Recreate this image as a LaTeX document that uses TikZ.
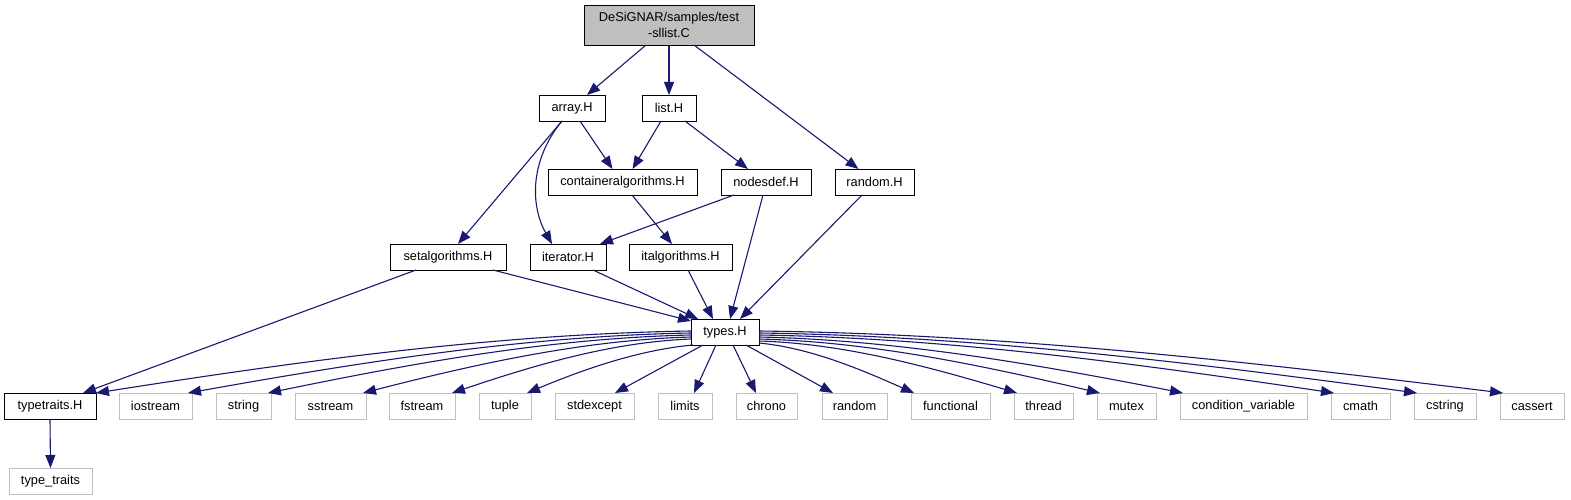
\documentclass[tikz,border=0pt]{standalone}
\usepackage{fontspec}
\setmainfont{Liberation Sans}
\usetikzlibrary{arrows.meta}
\definecolor{edgeblue}{HTML}{191970}
\definecolor{greyBF}{HTML}{BFBFBF}
\begin{document}
\begin{tikzpicture}[x=1pt,y=-1pt,
  nd/.style={draw=black, line width=0.9pt, inner sep=0pt, outer sep=0pt,
    font=\fontsize{12.8}{16}\selectfont, minimum height=26pt, text=black},
  ext/.style={nd, draw=greyBF},
  edge/.style={draw=edgeblue, line width=1.1pt, -{Triangle[length=13pt,width=10pt]}}]
\useasboundingbox (0,0) rectangle (1571,500);
% nodes
\node[nd, fill=greyBF, minimum width=170pt, minimum height=40pt, align=center] (root) at (669,25) {DeSiGNAR/samples/test\\-sllist.C};
\node[nd, minimum width=66pt] (array) at (572,108) {array.H};
\node[nd, minimum width=54pt] (list) at (669,108) {list.H};
\node[nd, minimum width=149pt] (contalg) at (622.5,182) {containeralgorithms.H};
\node[nd, minimum width=90pt] (nodesdef) at (766,182) {nodesdef.H};
\node[nd, minimum width=79pt] (randomH) at (874.5,182) {random.H};
\node[nd, minimum width=116pt] (setalg) at (448,257) {setalgorithms.H};
\node[nd, minimum width=76pt] (iterator) at (568,257) {iterator.H};
\node[nd, minimum width=103pt] (italg) at (680.5,257) {italgorithms.H};
\node[nd, minimum width=68pt] (types) at (725,332) {types.H};
\node[nd, minimum width=92pt] (typetraits) at (50,406) {typetraits.H};
\node[ext, minimum width=73pt] (iostream) at (155.5,406) {iostream};
\node[ext, minimum width=55pt] (string) at (243.5,406) {string};
\node[ext, minimum width=71pt] (sstream) at (330.5,406) {sstream};
\node[ext, minimum width=66pt] (fstream) at (422,406) {fstream};
\node[ext, minimum width=52pt] (tuple) at (505,406) {tuple};
\node[ext, minimum width=79pt] (stdexcept) at (594.5,406) {stdexcept};
\node[ext, minimum width=54pt] (limits) at (685,406) {limits};
\node[ext, minimum width=61pt] (chrono) at (766.5,406) {chrono};
\node[ext, minimum width=65pt] (random) at (854.5,406) {random};
\node[ext, minimum width=79pt] (functional) at (950.5,406) {functional};
\node[ext, minimum width=59pt] (thread) at (1043.5,406) {thread};
\node[ext, minimum width=59pt] (mutex) at (1126.5,406) {mutex};
\node[ext, minimum width=127pt] (condvar) at (1243.5,406) {condition\_variable};
\node[ext, minimum width=59pt] (cmath) at (1360.5,406) {cmath};
\node[ext, minimum width=62pt] (cstring) at (1445,406) {cstring};
\node[ext, minimum width=64pt] (cassert) at (1532,406) {cassert};
\node[ext, minimum width=83pt] (type_traits) at (50.5,481) {type\_traits};
% edges
\draw[edge] ([xshift=-23pt]root.south) -- ([xshift=15pt]array.north);
\draw[edge] (root.south) -- (list.north);
\draw[edge] ([xshift=25pt]root.south) -- ([xshift=-16pt]randomH.north);
\draw[edge] ([xshift=8pt]array.south) -- ([xshift=-10pt]contalg.north);
\draw[edge] ([xshift=-8pt]list.south) -- ([xshift=10pt]contalg.north);
\draw[edge] ([xshift=16pt]list.south) -- ([xshift=-18pt]nodesdef.north);
\draw[edge] ([xshift=-10pt]array.south) -- ([xshift=10pt]setalg.north);
\draw[edge] ([xshift=-10pt]array.south) .. controls (530,160) and (530,205) .. ([xshift=-16pt]iterator.north);
\draw[edge] ([xshift=-32pt]nodesdef.south) -- ([xshift=32pt]iterator.north);
\draw[edge] ([xshift=9.5pt]contalg.south) -- ([xshift=-8.5pt]italg.north);
\draw[edge] ([xshift=-3pt]nodesdef.south) -- ([xshift=5pt]types.north);
\draw[edge] ([xshift=-12.5pt]randomH.south) -- ([xshift=15pt]types.north);
\draw[edge] ([xshift=7.5pt]italg.south) -- ([xshift=-12pt]types.north);
\draw[edge] ([xshift=25pt]iterator.south) -- ([xshift=-27pt]types.north);
\draw[edge] ([xshift=45pt]setalg.south) -- ([yshift=-2pt]types.north west);
\draw[edge] ([xshift=-32pt]setalg.south) -- ([xshift=33pt]typetraits.north);
\draw[edge] (typetraits.south) -- (type_traits.north);
% types to bottom row
\draw[edge] ([yshift=1pt]types.west) .. controls (493,334) and (294,362) .. (typetraits.north east);
\draw[edge] ([yshift=-1pt]types.west) .. controls (523,336) and (356,363) .. ([xshift=-4pt]iostream.north east);
\draw[edge] ([yshift=-3pt]types.west) .. controls (550,338) and (409,364) .. ([xshift=-3pt]string.north east);
\draw[edge] ([yshift=-5pt]types.west) .. controls (582,340) and (472,365) .. ([xshift=-3pt]sstream.north east);
\draw[edge] ([yshift=-7pt]types.west) .. controls (611,342) and (532,366) .. ([xshift=-3pt]fstream.north east);
\draw[edge] ([xshift=2pt]types.south west) .. controls (638,350) and (582,370) .. ([xshift=-4pt]tuple.north east);
\draw[edge] ([xshift=-22pt]types.south) -- ([xshift=20.5pt]stdexcept.north);
\draw[edge] ([xshift=-9pt]types.south) -- ([xshift=9pt]limits.north);
\draw[edge] ([xshift=8pt]types.south) -- ([xshift=-10.5pt]chrono.north);
\draw[edge] ([xshift=21pt]types.south) -- ([xshift=-21.5pt]random.north);
\draw[edge] ([yshift=2pt]types.south east) .. controls (811,348) and (862,370) .. ([xshift=3pt]functional.north west);
\draw[edge] ([yshift=-9pt]types.east) .. controls (845,343.6) and (931,367.5) .. ([xshift=3pt]thread.north west);
\draw[edge] ([yshift=-7pt]types.east) .. controls (873,341.8) and (986,366.5) .. ([xshift=3pt]mutex.north west);
\draw[edge] ([yshift=-5pt]types.east) .. controls (900,340) and (1042,365.5) .. ([xshift=3pt]condvar.north west);
\draw[edge] ([yshift=-3pt]types.east) .. controls (951,338) and (1142,364.5) .. ([xshift=3pt]cmath.north west);
\draw[edge] ([yshift=-1pt]types.east) .. controls (978,336) and (1198,363.5) .. ([xshift=3pt]cstring.north west);
\draw[edge] ([yshift=1pt]types.east) .. controls (1007,334) and (1255,362.5) .. ([xshift=3pt]cassert.north west);
\end{tikzpicture}
\end{document}
